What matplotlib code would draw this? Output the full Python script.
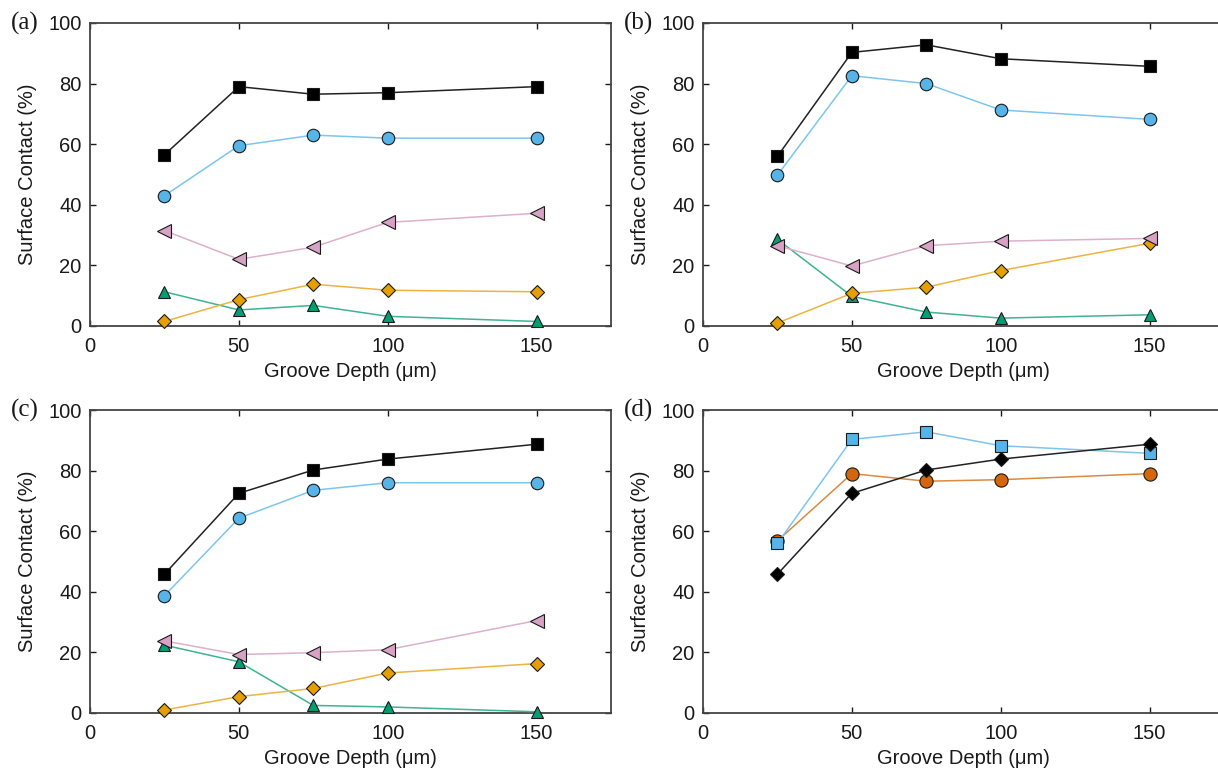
import matplotlib
matplotlib.use("Agg")
import matplotlib.pyplot as plt

plt.rcParams['font.family'] = ['Liberation Sans', 'DejaVu Sans']

depth = [25, 50, 75, 100, 150]

# Panel (a)
a_total = [56.5, 79.0, 76.5, 77.0, 79.0]
a_blue = [43.0, 59.5, 63.0, 62.0, 62.0]
a_pink = [31.5, 22.0, 26.0, 34.2, 37.2]
a_orange = [1.5, 8.7, 13.8, 11.8, 11.3]
a_teal = [11.3, 5.3, 6.8, 3.2, 1.5]

# Panel (b)
b_total = [56.0, 90.3, 92.8, 88.2, 85.7]
b_blue = [49.8, 82.6, 80.0, 71.3, 68.2]
b_pink = [26.5, 19.8, 26.5, 28.0, 28.9]
b_orange = [1.0, 10.8, 12.8, 18.3, 27.3]
b_teal = [28.6, 9.8, 4.6, 2.6, 3.7]

# Panel (c)
c_total = [45.8, 72.5, 80.2, 83.8, 88.7]
c_blue = [38.7, 64.3, 73.5, 76.0, 76.0]
c_pink = [23.8, 19.3, 19.9, 20.9, 30.5]
c_orange = [1.0, 5.4, 8.1, 13.2, 16.3]
c_teal = [22.4, 16.9, 2.5, 2.0, 0.4]

# Panel (d)
d_blue_sq = [56.0, 90.3, 92.8, 88.2, 85.7]
d_orange_circ = [56.8, 79.0, 76.5, 77.0, 79.0]
d_black_dia = [45.8, 72.5, 80.2, 83.8, 88.7]

panel_labels = ['(a)', '(b)', '(c)', '(d)']

BLACK = '#000000'
BLUE = '#56B4E9'
PINK = '#D7A2C3'
ORANGE = '#E69F00'
TEAL = '#009E73'
VERM = '#D5670A'

fig = plt.figure(figsize=(12.18, 7.73), dpi=100)

W, H = 1218, 773
def add_ax(left_px, top_px):
    w_px = 521
    h_px = 303
    return fig.add_axes([left_px / W, (H - top_px - h_px) / H, w_px / W, h_px / H])

axes = [add_ax(90, 23), add_ax(703, 23), add_ax(90, 410), add_ax(703, 410)]

def series(ax, y, color, marker, ms=8, lcolor=None):
    ax.plot(depth, y, color=lcolor or color, lw=1.1, marker=marker, ms=ms,
            mfc=color, mec='#1a1a1a', mew=0.8, zorder=3, clip_on=False)

four = [(a_total, a_blue, a_pink, a_orange, a_teal),
        (b_total, b_blue, b_pink, b_orange, b_teal),
        (c_total, c_blue, c_pink, c_orange, c_teal)]

for ax, (tot, blu, pnk, org, tl) in zip(axes[:3], four):
    series(ax, tl, TEAL, '^', ms=9, lcolor='#3FB394')
    series(ax, org, ORANGE, 'D', ms=7.5, lcolor='#EDB340')
    series(ax, pnk, PINK, '<', ms=9.5, lcolor='#DDB0CC')
    series(ax, blu, BLUE, 'o', ms=9, lcolor='#7CC6EE')
    series(ax, tot, BLACK, 's', ms=8, lcolor='#222222')

ax = axes[3]
series(ax, d_orange_circ, VERM, 'o', ms=9.5, lcolor='#DB8A40')
series(ax, d_blue_sq, BLUE, 's', ms=8, lcolor='#7CC6EE')
series(ax, d_black_dia, BLACK, 'D', ms=7, lcolor='#222222')

for ax, lab in zip(axes, panel_labels):
    ax.set_xlim(0, 175)
    ax.set_ylim(0, 100)
    ax.set_xticks([0, 50, 100, 150])
    ax.set_yticks([0, 20, 40, 60, 80, 100])
    ax.tick_params(direction='in', length=4, width=1, top=True, right=True,
                   labelsize=14.5, colors='#1a1a1a')
    ax.tick_params(axis='x', pad=8)
    ax.tick_params(axis='y', pad=6)
    for s in ax.spines.values():
        s.set_color('#444444')
        s.set_linewidth(1.3)
    ax.set_xlabel('Groove Depth (\u03bcm)', fontsize=14.5, labelpad=4, color='#1a1a1a')
    ax.set_ylabel('Surface Contact (%)', fontsize=14.5, labelpad=8, color='#1a1a1a')
    ax.text(-0.152, 1.0, lab, transform=ax.transAxes, fontsize=18,
            family=['Liberation Serif', 'DejaVu Serif'], ha='left', va='center',
            color='#1a1a1a')

fig.savefig('out.png', dpi=100)
